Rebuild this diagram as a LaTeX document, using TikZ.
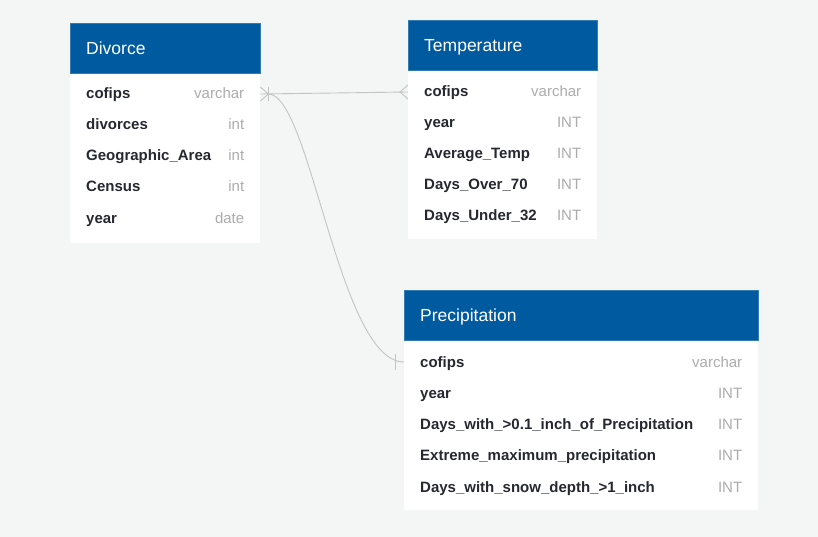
\documentclass[tikz,border=0pt]{standalone}
\usepackage{fontspec}
\setmainfont{Liberation Sans}
\usetikzlibrary{positioning}

\definecolor{hdrblue}{RGB}{0,90,160}
\definecolor{bgcol}{RGB}{244,246,245}
\definecolor{linkgray}{RGB}{195,195,195}
\definecolor{typegray}{RGB}{172,172,172}
\definecolor{fieldtext}{RGB}{38,40,48}

\begin{document}
\begin{tikzpicture}[x=1pt,y=-1pt]

% definitions
\tikzstyle{header} = [rectangle, anchor=north west, inner xsep=16pt, inner ysep=0pt, minimum height=50pt, text height=12pt, text depth=0pt, align=left, fill=hdrblue, draw=hdrblue!80, text=white, font=\fontsize{17.5}{20}\selectfont]

\tikzstyle{tbody} = [rectangle, anchor=north west, inner sep=0pt, fill=white]

\tikzstyle{field} = [anchor=base west, inner sep=0pt, text height=10pt, text depth=0pt, text=fieldtext, font=\fontsize{15}{17}\selectfont\bfseries]

\tikzstyle{ftype} = [anchor=base east, inner sep=0pt, text height=10pt, text depth=0pt, text=typegray, font=\fontsize{15}{17}\selectfont]

\tikzstyle{link} = [draw=linkgray, line width=0.9pt]

% background
\fill [bgcol] (0,0) rectangle (818,537);

% Divorce
\node (divhead) [header, text width=158pt] at (70,23) {Divorce};
\node (divbody) [tbody, minimum width=190pt, minimum height=169pt, below=0pt of divhead.south west, anchor=north west] {};

\node (divcofips) [field] at (86,99) {cofips};
\node (divdivorces) [field] at (86,130) {divorces};
\node (divarea) [field] at (86,161) {Geographic\_Area};
\node (divcensus) [field] at (86,192) {Census};
\node (divyear) [field] at (86,223) {year};

\node (divcofipsT) [ftype, xshift=-16pt] at (divcofips.base -| divbody.east) {varchar};
\node (divdivorcesT) [ftype, xshift=-16pt] at (divdivorces.base -| divbody.east) {int};
\node (divareaT) [ftype, xshift=-16pt] at (divarea.base -| divbody.east) {int};
\node (divcensusT) [ftype, xshift=-16pt] at (divcensus.base -| divbody.east) {int};
\node (divyearT) [ftype, xshift=-16pt] at (divyear.base -| divbody.east) {date};

% Temperature
\node (temphead) [header, text width=157pt] at (408,20) {Temperature};
\node (tempbody) [tbody, minimum width=189pt, minimum height=168pt, below=0pt of temphead.south west, anchor=north west] {};

\node (tempcofips) [field] at (424,97) {cofips};
\node (tempyear) [field] at (424,128) {year};
\node (tempavg) [field] at (424,159) {Average\_Temp};
\node (tempover) [field] at (424,190) {Days\_Over\_70};
\node (tempunder) [field] at (424,221) {Days\_Under\_32};

\node (tempcofipsT) [ftype, xshift=-16pt] at (tempcofips.base -| tempbody.east) {varchar};
\node (tempyearT) [ftype, xshift=-16pt] at (tempyear.base -| tempbody.east) {INT};
\node (tempavgT) [ftype, xshift=-16pt] at (tempavg.base -| tempbody.east) {INT};
\node (tempoverT) [ftype, xshift=-16pt] at (tempover.base -| tempbody.east) {INT};
\node (tempunderT) [ftype, xshift=-16pt] at (tempunder.base -| tempbody.east) {INT};

% Precipitation
\node (prechead) [header, text width=322pt] at (404,290) {Precipitation};
\node (precbody) [tbody, minimum width=354pt, minimum height=169pt, below=0pt of prechead.south west, anchor=north west] {};

\node (preccofips) [field] at (420,367) {cofips};
\node (precyear) [field] at (420,398) {year};
\node (precrain) [field] at (420,429) {Days\_with\_>0.1\_inch\_of\_Precipitation};
\node (precmax) [field] at (420,460) {Extreme\_maximum\_precipitation};
\node (precsnow) [field] at (420,492) {Days\_with\_snow\_depth\_>1\_inch};

\node (preccofipsT) [ftype, xshift=-16pt] at (preccofips.base -| precbody.east) {varchar};
\node (precyearT) [ftype, xshift=-16pt] at (precyear.base -| precbody.east) {INT};
\node (precrainT) [ftype, xshift=-16pt] at (precrain.base -| precbody.east) {INT};
\node (precmaxT) [ftype, xshift=-16pt] at (precmax.base -| precbody.east) {INT};
\node (precsnowT) [ftype, xshift=-16pt] at (precsnow.base -| precbody.east) {INT};

% relations
\coordinate (divend) at (divbody.east |- divcofips);
\coordinate (tempend) at (tempbody.west |- tempcofips);
\coordinate (precend) at (precbody.west |- preccofips);

\draw [link] (divend) -- (tempend);
\draw [link] (divend) ++(8,0) .. controls ++(42,0) and ++(-65,0) .. (precend);

% divorce side: one or many
\draw [link] (divend) ++(0,-7) -- ++(8,7) -- ++(-8,7);
\draw [link] (divend) ++(8,-7) -- ++(0,14);

% temperature side: many
\draw [link] (tempend) ++(0,-7) -- ++(-8,7) -- ++(8,7);

% precipitation side: one
\draw [link] (precend) ++(-9,-8) -- ++(0,16);

\end{tikzpicture}
\end{document}
